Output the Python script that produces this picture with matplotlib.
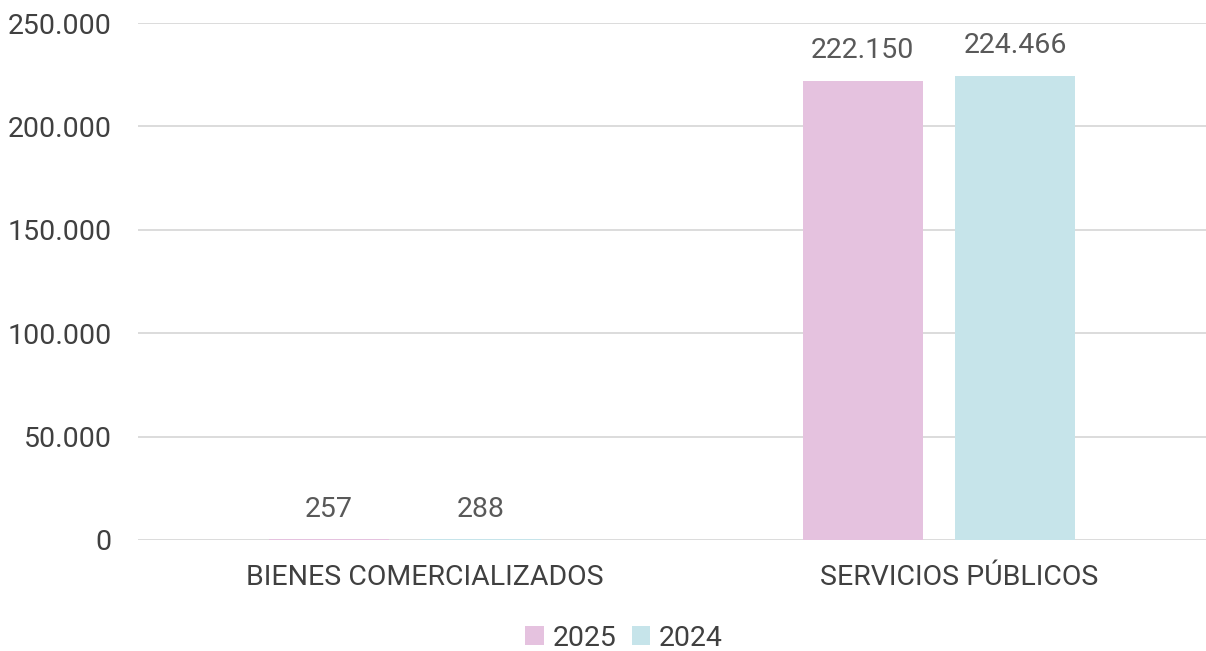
import matplotlib
matplotlib.use("Agg")
import matplotlib.pyplot as plt
import matplotlib.transforms as mtransforms
from matplotlib.ticker import FuncFormatter
import numpy as np

categories = ["BIENES COMERCIALIZADOS", "SERVICIOS PÚBLICOS"]
series_names = ["2025", "2024"]
values_2025 = [257, 222150]
values_2024 = [288, 224466]
colors = ["#E5C2DF", "#C6E4EA"]

plt.rcParams['font.family'] = ['Roboto', 'DejaVu Sans']
FS = 20.5

def fmt(v):
    return f"{int(round(v)):,}".replace(",", ".")

fig = plt.figure(figsize=(12.06, 6.51), dpi=100)
ax = fig.add_axes([138/1206, 1 - 540/651, (1206 - 138)/1206, (540 - 23)/651])

x = np.arange(len(categories))
w = 0.225
off = 0.1425
for vals, c, name, dx in [(values_2025, colors[0], series_names[0], -off),
                          (values_2024, colors[1], series_names[1], off)]:
    bars = ax.bar(x + dx, vals, width=w, color=c, label=name, zorder=3)
    for b, v in zip(bars, vals):
        ax.annotate(fmt(v), (b.get_x() + b.get_width() / 2, b.get_height()),
                    xytext=(0, 12), textcoords="offset points",
                    ha="center", va="bottom", fontsize=FS, color="#595959")

ax.set_xlim(-0.5, 1.5)
ax.set_ylim(0, 250000)
ax.set_yticks(np.arange(0, 250001, 50000))
ax.yaxis.set_major_formatter(FuncFormatter(lambda v, p: fmt(v)))
ax.set_xticks(x)
ax.set_xticklabels(categories)
ax.grid(axis="y", color="#D9D9D9", linewidth=1.3, zorder=0)
for s in ax.spines.values():
    s.set_visible(False)
ax.tick_params(axis="both", length=0, labelsize=FS, labelcolor="#404040")
ax.tick_params(axis="y", pad=19)
ax.tick_params(axis="x", pad=17)
shift = mtransforms.ScaledTranslation(20/100, 0, fig.dpi_scale_trans)
for lab in ax.get_xticklabels():
    lab.set_transform(lab.get_transform() + shift)

leg = fig.legend(loc="center", bbox_to_anchor=(624/1206, 1 - 638/651), ncol=2,
                 frameon=False, fontsize=FS, handlelength=0.65, handleheight=0.65,
                 handletextpad=0.3, columnspacing=0.55, labelcolor="#404040")

fig.savefig("out.png", dpi=100)
